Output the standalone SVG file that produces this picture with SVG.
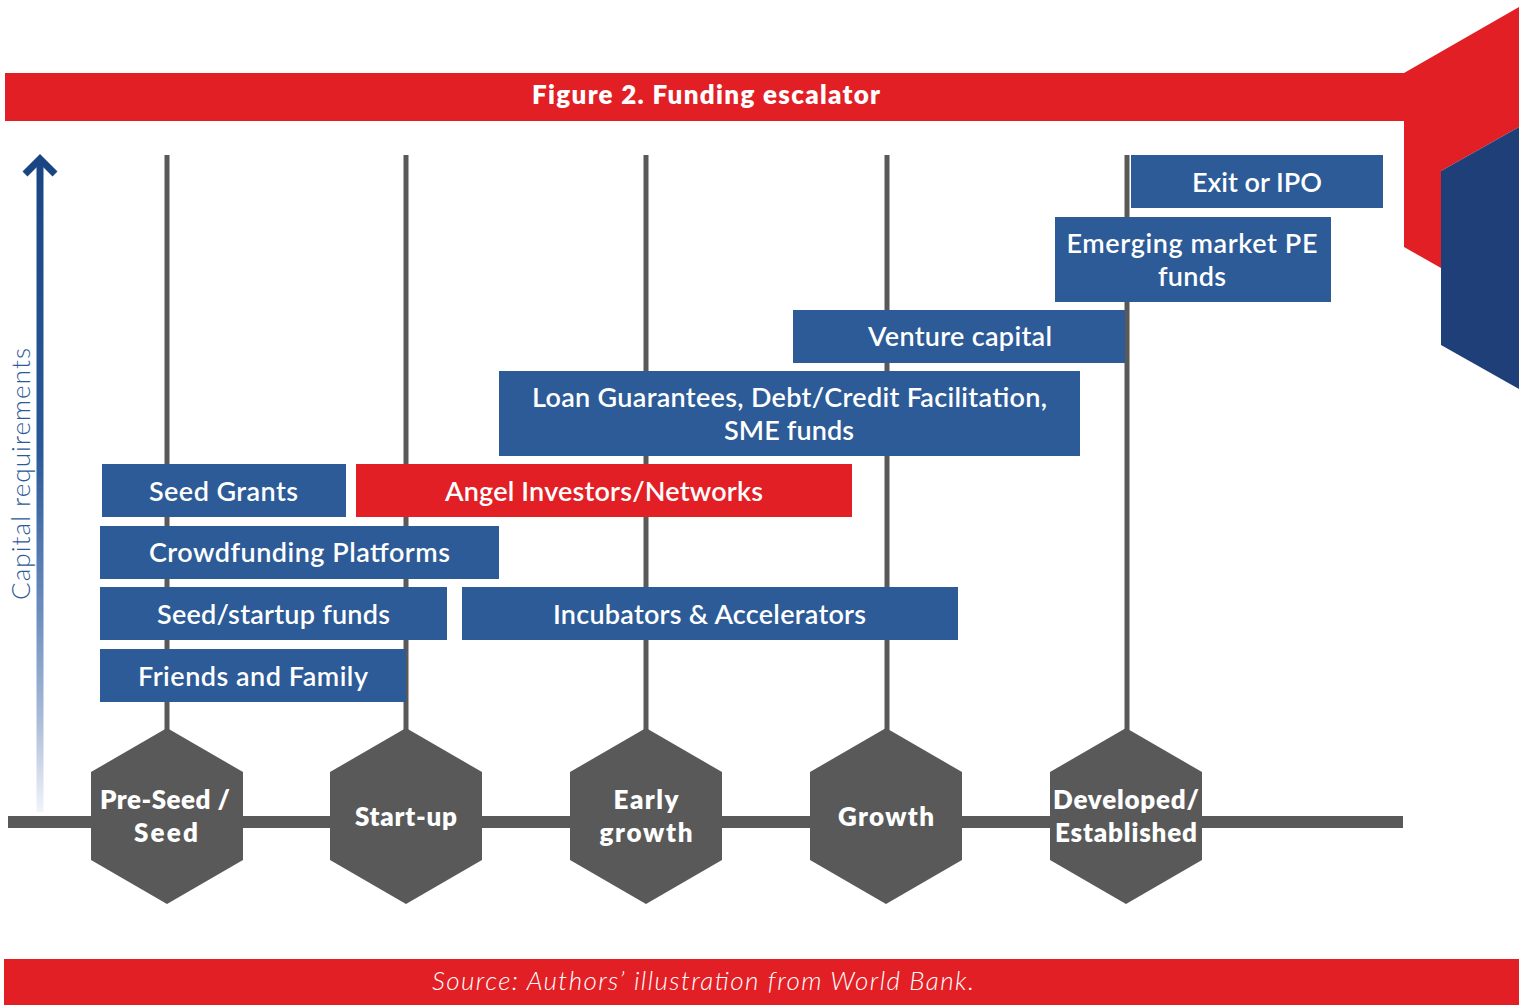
<svg xmlns="http://www.w3.org/2000/svg" width="1522" height="1005" viewBox="0 0 1522 1005">
<defs>
<linearGradient id="arrowGrad" gradientUnits="userSpaceOnUse" x1="0" y1="155" x2="0" y2="812">
<stop offset="0" stop-color="#1a4583"/>
<stop offset="0.45" stop-color="#2a5898"/>
<stop offset="0.7" stop-color="#6d8ebf"/>
<stop offset="0.86" stop-color="#a9bcd8"/>
<stop offset="1" stop-color="#f2f5fa"/>
</linearGradient>
<style>
.box{fill:#2c5b97}
.red{fill:#e31f26}
.bt{font-family:Lato,"Liberation Sans",sans-serif;font-weight:600;font-size:27px;fill:#fff;text-anchor:middle}
.hex{fill:#595959}
.ht{font-family:Lato,"Liberation Sans",sans-serif;font-weight:800;font-size:26px;fill:#fff;text-anchor:middle}
.vl{stroke:#595959;stroke-width:5;fill:none}
</style>
</defs>
<rect width="1522" height="1005" fill="#fff"/>

<g id="title">
<polygon points="5,73 1404,73 1519,7 1519,127 1441,171 1441,268 1404,247 1404,121 5,121" fill="#e31f26"/>
<polygon points="1441,171 1519,127 1519,389 1441,345" fill="#1f3f79"/>
<text x="706" y="104" font-family="Lato,'Liberation Sans',sans-serif" font-weight="800" font-size="26" fill="#fff" text-anchor="middle" textLength="348">Figure 2. Funding escalator</text>
</g>

<g id="axis">
<line x1="40" y1="162" x2="40" y2="812" stroke="url(#arrowGrad)" stroke-width="7"/>
<polyline points="25,174 40,159 55,174" fill="none" stroke="#1a4583" stroke-width="7"/>
<text transform="translate(30,600) rotate(-90)" font-family="Lato,'Liberation Sans',sans-serif" font-weight="300" font-size="26" fill="#2c5a98" textLength="252">Capital requirements</text>
</g>

<g id="connectors">
<line class="vl" x1="167" y1="155" x2="167" y2="760"/>
<line class="vl" x1="406" y1="155" x2="406" y2="760"/>
<line class="vl" x1="646" y1="155" x2="646" y2="760"/>
<line class="vl" x1="887" y1="155" x2="887" y2="760"/>
<line class="vl" x1="1127" y1="155" x2="1127" y2="760"/>
<rect x="8" y="816" width="1395" height="12" fill="#595959"/>
</g>

<g id="exit-ipo"><rect class="box" x="1131" y="155" width="252" height="53"/><text class="bt" x="1257" y="192" textLength="130">Exit or IPO</text></g>
<g id="emerging-pe"><rect class="box" x="1055" y="217" width="276" height="85"/><text class="bt" x="1192" y="253" textLength="251">Emerging market PE</text><text class="bt" x="1192" y="286" textLength="68">funds</text></g>
<g id="venture-capital"><rect class="box" x="793" y="310" width="332" height="53"/><text class="bt" x="960" y="346" textLength="184">Venture capital</text></g>
<g id="loan-guarantees"><rect class="box" x="499" y="371" width="581" height="85"/><text class="bt" x="789.5" y="407" textLength="515">Loan Guarantees, Debt/Credit Facilitation,</text><text class="bt" x="789" y="440" textLength="130">SME funds</text></g>
<g id="seed-grants"><rect class="box" x="102" y="464" width="244" height="53"/><text class="bt" x="223.5" y="501" textLength="149">Seed Grants</text></g>
<g id="angel-investors"><rect class="red" x="356" y="464" width="496" height="53"/><text class="bt" x="604" y="501" textLength="318">Angel Investors/Networks</text></g>
<g id="crowdfunding"><rect class="box" x="100" y="526" width="399" height="53"/><text class="bt" x="299.5" y="562" textLength="301">Crowdfunding Platforms</text></g>
<g id="seed-startup-funds"><rect class="box" x="100" y="587" width="347" height="53"/><text class="bt" x="273.5" y="624" textLength="233">Seed/startup funds</text></g>
<g id="incubators"><rect class="box" x="462" y="587" width="496" height="53"/><text class="bt" x="709.5" y="624" textLength="313">Incubators &amp; Accelerators</text></g>
<g id="friends-family"><rect class="box" x="100" y="649" width="306" height="53"/><text class="bt" x="253" y="686" textLength="230">Friends and Family</text></g>

<g id="stage-preseed"><polygon class="hex" points="167,728 243,772 243,860 167,904 91,860 91,772"/><text class="ht" x="165" y="809" textLength="130">Pre-Seed /</text><text class="ht" x="166" y="842" textLength="64">Seed</text></g>
<g id="stage-startup"><polygon class="hex" points="406,728 482,772 482,860 406,904 330,860 330,772"/><text class="ht" x="406" y="826" textLength="102">Start-up</text></g>
<g id="stage-early"><polygon class="hex" points="646,728 722,772 722,860 646,904 570,860 570,772"/><text class="ht" x="646" y="809" textLength="65">Early</text><text class="ht" x="646" y="842" textLength="93">growth</text></g>
<g id="stage-growth"><polygon class="hex" points="886,728 962,772 962,860 886,904 810,860 810,772"/><text class="ht" x="886" y="826" textLength="96">Growth</text></g>
<g id="stage-developed"><polygon class="hex" points="1126,728 1202,772 1202,860 1126,904 1050,860 1050,772"/><text class="ht" x="1126" y="809" textLength="146">Developed/</text><text class="ht" x="1126" y="842" textLength="142">Established</text></g>

<g id="footer">
<rect x="4" y="959" width="1515" height="46" fill="#e31f26"/>
<text x="703" y="990" font-family="Lato,'Liberation Sans',sans-serif" font-style="italic" font-weight="300" font-size="26" fill="#fff" text-anchor="middle" textLength="542">Source: Authors’ illustration from World Bank.</text>
</g>
</svg>
